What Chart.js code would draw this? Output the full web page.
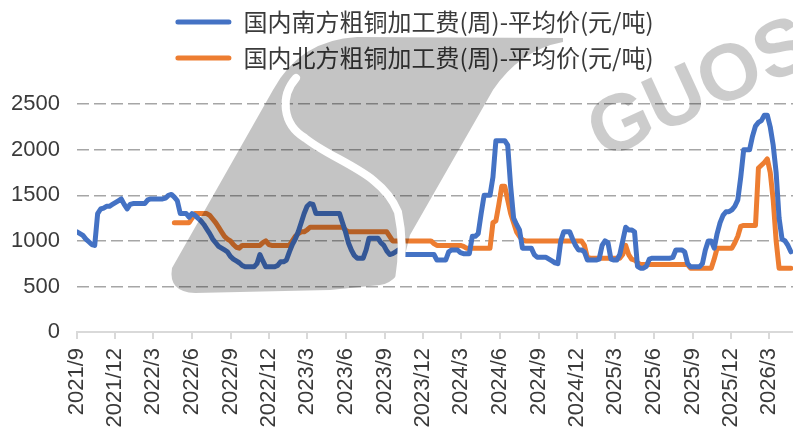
<!DOCTYPE html>
<html>
<head>
<meta charset="utf-8">
<script src="https://cdn.jsdelivr.net/npm/chart.js@4/dist/chart.umd.min.js"></script>
<style>
  html, body { margin: 0; padding: 0; background: #ffffff; }
  #wrap { width: 793px; height: 433px; position: relative; }
</style>
</head>
<body>
<div id="wrap"><canvas id="c" width="793" height="433"></canvas></div>
<script>
// ---- data (weekly, first week starting 2021-09-01) ----
const startDate = '2021-09-01';
const seriesNames = ['国内南方粗铜加工费(周)-平均价(元/吨)', '国内北方粗铜加工费(周)-平均价(元/吨)'];
const tickLabels = ['2021/9','2021/12','2022/3','2022/6','2022/9','2022/12','2023/3','2023/6','2023/9',
  '2023/12','2024/3','2024/6','2024/9','2024/12','2025/3','2025/6','2025/9','2025/12','2026/3'];
const yTicks = [0, 500, 1000, 1500, 2000, 2500];

const southValues = [
  1100,1080,1060,1020,990,960,950,1300,1350,1360,
  1380,1380,1400,1420,1440,1460,1400,1350,1400,1410,
  1410,1410,1410,1410,1450,1460,1460,1460,1460,1460,
  1470,1500,1510,1480,1440,1300,1300,1300,1260,1300,
  1280,1250,1220,1180,1130,1080,1020,980,940,920,
  900,880,830,800,780,760,730,715,715,715,
  715,750,850,780,715,715,715,715,730,770,
  770,790,880,960,1020,1100,1200,1300,1380,1410,
  1400,1300,1300,1300,1300,1300,1300,1300,1300,1300,
  1200,1100,980,900,840,810,810,810,900,1030,
  1030,1030,1030,980,950,890,850,860,880,900,
  870,850,850,850,850,850,850,850,850,850,
  850,850,790,790,790,790,880,900,900,900,
  870,860,860,860,1050,1050,1080,1300,1500,1500,
  1500,1700,2100,2100,2100,2100,2050,1600,1250,1180,
  1120,920,920,920,920,850,820,820,820,820,
  800,780,760,750,1000,1100,1100,1100,1020,950,
  900,900,880,790,790,790,790,800,950,1000,
  980,800,790,790,850,1000,1150,1120,1120,1100,
  720,700,700,720,800,810,810,810,810,810,
  810,810,820,900,900,900,880,750,715,715,
  715,715,750,900,1000,1000,920,1080,1200,1280,
  1320,1320,1340,1380,1450,1700,2000,2000,2000,2150,
  2260,2300,2320,2380,2380,2250,2050,1750,1250,1020,
  1000,950,880
];

const northValues = [
  null,null,null,null,null,null,null,null,null,null,
  null,null,null,null,null,null,null,null,null,null,
  null,null,null,null,null,null,null,null,null,null,
  null,null,null,1200,1200,1200,1200,1200,1200,1250,
  1300,1300,1300,1300,1300,1280,1240,1200,1150,1100,
  1050,1020,1000,960,930,920,950,950,950,950,
  950,950,950,980,1000,960,950,950,950,950,
  950,950,950,1000,1050,1080,1100,1100,1120,1150,
  1150,1150,1150,1150,1150,1150,1150,1150,1150,1150,
  1150,1120,1100,1100,1100,1100,1100,1100,1100,1100,
  1100,1100,1100,1100,1100,1100,1050,1000,1000,1000,
  1000,1000,1000,1000,1000,1000,1000,1000,1000,1000,
  1000,970,950,950,950,950,950,950,950,950,
  950,940,920,920,920,920,920,920,920,920,
  920,1200,1220,1400,1600,1600,1450,1300,1200,1100,
  1050,1010,1000,1000,1000,1000,1000,1000,1000,1000,
  1000,1000,1000,1000,1000,1000,1000,1000,1000,1000,
  1000,1000,950,820,810,810,810,810,810,810,
  810,810,810,810,810,850,950,850,800,790,
  760,740,740,740,740,740,740,740,740,740,
  740,740,740,740,740,740,740,740,700,700,
  700,700,700,700,700,700,800,920,920,920,
  920,920,920,980,1050,1160,1170,1170,1170,1170,
  1170,1800,1830,1860,1900,1750,1450,1000,700,700,
  700,700,700
];

const seriesColors = ['#4472C4', '#ED7D31'];

// ---- helpers: convert week index / tick label to days since start ----
const DAY = 86400000;
const t0 = Date.parse(startDate + 'T00:00:00Z');
function labelToDays(lbl) {
  const [y, m] = lbl.split('/').map(Number);
  return (Date.UTC(y, m - 1, 1) - t0) / DAY;
}
const tickDays = tickLabels.map(labelToDays);
const toPoints = vals => vals.map((v, i) => ({ x: i * 7, y: v }));

// shift legend block slightly right (reference legend is off-centre)
const legendShift = {
  id: 'legendShift',
  afterLayout(chart) {
    const lg = chart.legend;
    if (lg) { lg.left += 18; lg.right += 18; }
  }
};

// faint grey watermark overlay (decoration only)
const watermark = {
  id: 'watermark',
  afterDraw(chart) {
    const c = chart.ctx;
    c.save();
    c.fillStyle = 'rgba(0,0,0,0.23)';
    c.beginPath();
    c.moveTo(172, 268);
    c.quadraticCurveTo(168, 292, 195, 293);
    c.lineTo(330, 290);
    c.lineTo(380, 285);
    c.quadraticCurveTo(400, 282, 405, 255);
    c.lineTo(410, 235);
    c.lineTo(493, 90);
    c.quadraticCurveTo(520, 50, 563, 42);
    c.lineTo(563, 38);
    c.lineTo(357, 37);
    c.quadraticCurveTo(300, 40, 273, 90);
    c.closePath();
    c.fill();
    // white swoosh
    c.strokeStyle = '#ffffff';
    c.lineWidth = 8;
    c.lineCap = 'round';
    c.beginPath();
    c.moveTo(296, 78);
    c.bezierCurveTo(280, 96, 282, 124, 305, 138);
    c.bezierCurveTo(335, 162, 382, 172, 398, 212);
    c.quadraticCurveTo(405, 245, 399, 280);
    c.stroke();
    // GUOSEN lettering
    c.translate(603, 160);
    c.rotate(-0.43);
    c.fillStyle = 'rgba(0,0,0,0.2)';
    c.font = "bold 80px 'Liberation Sans', Arial, sans-serif";
    c.textBaseline = 'alphabetic';
    c.fillText('GUOSEN', 0, 0);
    c.restore();
  }
};

const ctx = document.getElementById('c').getContext('2d');
new Chart(ctx, {
  type: 'line',
  data: {
    datasets: [
      { label: seriesNames[0], data: toPoints(southValues), borderColor: seriesColors[0], backgroundColor: seriesColors[0],
        borderWidth: 5, pointRadius: 0, tension: 0, spanGaps: false, borderJoinStyle: 'round', borderCapStyle: 'round' },
      { label: seriesNames[1], data: toPoints(northValues), borderColor: seriesColors[1], backgroundColor: seriesColors[1],
        borderWidth: 5, pointRadius: 0, tension: 0, spanGaps: false, borderJoinStyle: 'round', borderCapStyle: 'round' }
    ]
  },
  options: {
    responsive: false,
    animation: false,
    devicePixelRatio: 1,
    layout: { padding: { left: 0, right: 0, top: -2, bottom: 0 } },
    plugins: {
      tooltip: { enabled: false },
      legend: {
        display: true,
        position: 'top',
        labels: {
          font: { family: "'Noto Sans CJK SC', 'Noto Sans', sans-serif", size: 24 },
          color: '#3a3a3a',
          boxWidth: 56,
          boxHeight: 5,
          padding: 12,
          useBorderRadius: true,
          borderRadius: 2.5,
          generateLabels(chart) {
            const items = Chart.defaults.plugins.legend.labels.generateLabels(chart);
            return items.map(it => Object.assign(it, { lineWidth: 0 }));
          }
        }
      },
      subtitle: {
        display: true,
        text: '',
        position: 'top',
        weight: 500,
        font: { size: 1 },
        padding: { top: 0, bottom: 23 }
      }
    },
    scales: {
      x: {
        type: 'linear',
        min: 0,
        max: 1699,
        afterBuildTicks(scale) { scale.ticks = tickDays.map(v => ({ value: v })); },
        afterFit(scale) { scale.height = 101; scale.paddingRight = 0; scale.paddingLeft = 0; },
        ticks: {
          autoSkip: false,
          maxRotation: 90,
          minRotation: 90,
          padding: 9,
          color: '#3a3a3a',
          font: { family: "'Liberation Sans', Arial, sans-serif", size: 22 },
          callback(value) {
            const idx = tickDays.indexOf(value);
            return idx >= 0 ? tickLabels[idx] : '';
          }
        },
        grid: { display: true, drawOnChartArea: false, drawTicks: true, tickLength: 7, color: '#d9d9d9', lineWidth: 2 },
        border: { display: true, color: '#d9d9d9', width: 2 }
      },
      y: {
        min: 0,
        max: 2500,
        afterBuildTicks(scale) { scale.ticks = yTicks.map(v => ({ value: v })); },
        afterFit(scale) { scale.width = 77; },
        ticks: {
          padding: 17,
          color: '#3a3a3a',
          font: { family: "'Liberation Sans', Arial, sans-serif", size: 22 },
          callback(value) { return String(value); }
        },
        grid: {
          drawTicks: false,
          color: c => (c.tick && c.tick.value === 0) ? 'rgba(0,0,0,0)' : '#a6a6a6',
          lineWidth: 1.5
        },
        border: { display: false, dash: [12, 5] }
      }
    }
  },
  plugins: [legendShift, watermark]
});
</script>
</body>
</html>
